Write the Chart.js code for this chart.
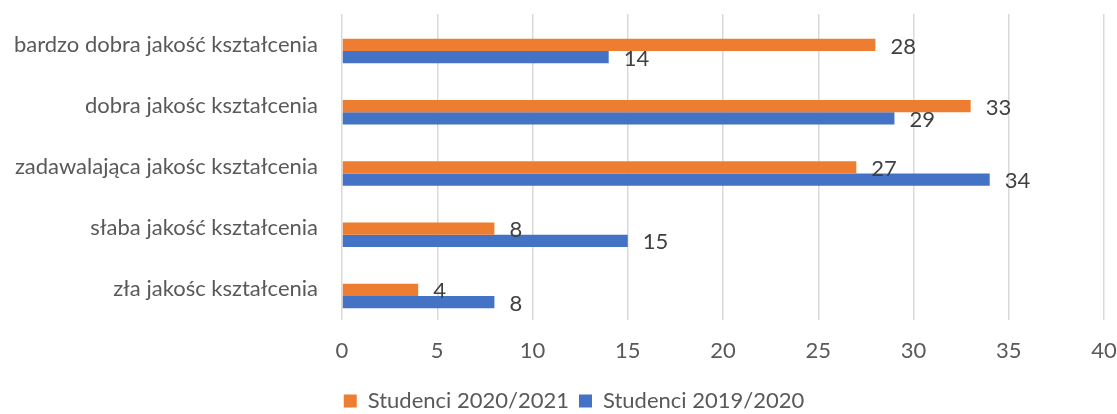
<!DOCTYPE html>
<html>
<head>
<meta charset="utf-8">
<script src="https://cdn.jsdelivr.net/npm/chart.js@4/dist/chart.umd.min.js"></script>
<style>
  html, body { margin: 0; padding: 0; background: #ffffff; }
  #wrap { width: 1117px; height: 414px; position: relative; }
</style>
</head>
<body>
<div id="wrap"><canvas id="c"></canvas></div>
<script>
const categories = [
  'bardzo dobra jakość kształcenia',
  'dobra jakośc kształcenia',
  'zadawalająca jakośc kształcenia',
  'słaba jakość kształcenia',
  'zła jakośc kształcenia'
];
const seriesNames = ['Studenci 2020/2021', 'Studenci 2019/2020'];
const students2021 = [28, 33, 27, 8, 4];
const students2020 = [14, 29, 34, 15, 8];
const xTicks = [0, 5, 10, 15, 20, 25, 30, 35, 40];

const FONT = 'Lato, "Open Sans", sans-serif';
const FS = 22;

const barShift = {
  id: 'barShift',
  beforeDatasetsDraw(chart) {
    chart.ctx.save();
    chart.ctx.translate(0, 6.5);
  },
  afterDatasetsDraw(chart) {
    const ctx = chart.ctx;
    ctx.font = FS + 'px ' + FONT;
    ctx.fillStyle = '#404040';
    ctx.textAlign = 'left';
    ctx.textBaseline = 'middle';
    chart.data.datasets.forEach((ds, i) => {
      const meta = chart.getDatasetMeta(i);
      meta.data.forEach((bar, j) => {
        ctx.fillText(String(ds.data[j]), bar.x + 15, bar.y + 1.5);
      });
    });
    ctx.restore();
  },
  afterLayout(chart) {
    const lg = chart.legend;
    if (lg) {
      lg.top += 8; lg.bottom += 8;
      lg.left += 22; lg.right += 22;
    }
  }
};

new Chart(document.getElementById('c'), {
  type: 'bar',
  data: {
    labels: categories,
    datasets: [
      { label: seriesNames[0], data: students2021, backgroundColor: '#ED7D31', borderWidth: 0,
        barPercentage: 1.0, categoryPercentage: 0.4 },
      { label: seriesNames[1], data: students2020, backgroundColor: '#4472C4', borderWidth: 0,
        barPercentage: 1.0, categoryPercentage: 0.4 }
    ]
  },
  options: {
    indexAxis: 'y',
    responsive: true,
    maintainAspectRatio: false,
    animation: false,
    layout: { padding: { top: 14, right: 13, left: 0, bottom: 0 } },
    scales: {
      x: {
        min: 0, max: 40,
        afterBuildTicks(scale) { scale.ticks = xTicks.map(v => ({ value: v })); },
        grid: { color: '#D9D9D9', lineWidth: 1.5, drawTicks: true, tickLength: 18, tickColor: 'rgba(0,0,0,0)' },
        border: { display: false },
        ticks: { color: '#595959', font: { family: FONT, size: FS }, padding: 0 },
        afterFit(scale) { scale.height = 52; }
      },
      y: {
        grid: { display: false, drawTicks: true, tickLength: 24 },
        border: { display: false },
        ticks: { color: '#595959', font: { family: FONT, size: FS }, padding: 0 },
        afterFit(scale) { scale.width = 342; }
      }
    },
    plugins: {
      legend: {
        position: 'bottom',
        labels: {
          color: '#595959',
          font: { family: FONT, size: FS },
          boxWidth: 13, boxHeight: 13,
          padding: 10
        }
      },
      tooltip: { enabled: false }
    }
  },
  plugins: [barShift]
});
</script>
</body>
</html>
